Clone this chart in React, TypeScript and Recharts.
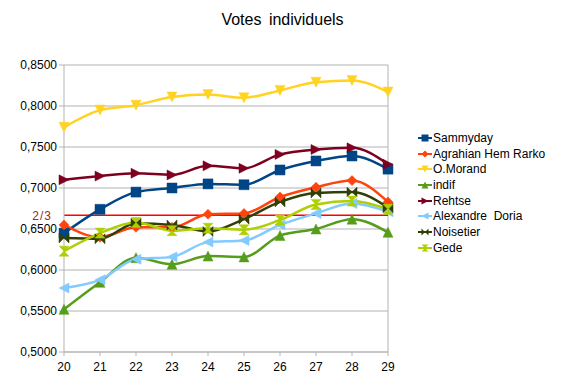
import {
  LineChart,
  Line,
  XAxis,
  YAxis,
  CartesianGrid,
  Legend,
  ReferenceLine,
} from 'recharts';

const rounds = [20, 21, 22, 23, 24, 25, 26, 27, 28, 29];

const sammyday = [0.645, 0.674, 0.695, 0.7, 0.705, 0.704, 0.722, 0.733, 0.739, 0.723];
const agrahian = [0.655, 0.64, 0.652, 0.652, 0.668, 0.669, 0.689, 0.701, 0.709, 0.683];
const morand = [0.774, 0.795, 0.801, 0.811, 0.814, 0.81, 0.819, 0.829, 0.831, 0.817];
const indif = [0.552, 0.585, 0.615, 0.607, 0.617, 0.616, 0.642, 0.65, 0.662, 0.646];
const rehtse = [0.71, 0.7145, 0.718, 0.716, 0.727, 0.724, 0.741, 0.747, 0.749, 0.729];
const doria = [0.578, 0.588, 0.613, 0.616, 0.634, 0.636, 0.655, 0.669, 0.681, 0.671];
const noisetier = [0.639, 0.638, 0.657, 0.655, 0.647, 0.662, 0.683, 0.694, 0.695, 0.676];
const gede = [0.623, 0.645, 0.658, 0.648, 0.651, 0.649, 0.661, 0.68, 0.684, 0.674];

const yTicks = [0.5, 0.55, 0.6, 0.65, 0.7, 0.75, 0.8, 0.85];
const TWO_THIRDS = 2 / 3;

const series = [
  { key: 'sammyday', name: 'Sammyday', values: sammyday, color: '#004586', shape: 'square' },
  { key: 'agrahian', name: 'Agrahian Hem Rarko', values: agrahian, color: '#ff420e', shape: 'diamond' },
  { key: 'morand', name: 'O.Morand', values: morand, color: '#ffd320', shape: 'down' },
  { key: 'indif', name: 'indif', values: indif, color: '#579d1c', shape: 'up' },
  { key: 'rehtse', name: 'Rehtse', values: rehtse, color: '#7e0021', shape: 'right' },
  { key: 'doria', name: 'Alexandre  Doria', values: doria, color: '#83caff', shape: 'left' },
  { key: 'noisetier', name: 'Noisetier', values: noisetier, color: '#314004', shape: 'bowtie' },
  { key: 'gede', name: 'Gede', values: gede, color: '#aecf00', shape: 'hourglass' },
];

const data = rounds.map((r, i) => {
  const row: Record<string, number> = { round: r };
  series.forEach((s) => (row[s.key] = s.values[i]));
  return row;
});

const FONT = '"Liberation Sans", Arial, sans-serif';

function markerPoints(shape: string, x: number, y: number, s: number) {
  switch (shape) {
    case 'diamond':
      return `${x},${y - s} ${x + s},${y} ${x},${y + s} ${x - s},${y}`;
    case 'down':
      return `${x - s},${y - s} ${x + s},${y - s} ${x},${y + s}`;
    case 'up':
      return `${x - s},${y + s} ${x + s},${y + s} ${x},${y - s}`;
    case 'right':
      return `${x - s},${y - s} ${x + s},${y} ${x - s},${y + s}`;
    case 'left':
      return `${x + s},${y - s} ${x - s},${y} ${x + s},${y + s}`;
    case 'bowtie':
      return `${x - s},${y - s} ${x + s},${y + s} ${x + s},${y - s} ${x - s},${y + s}`;
    case 'hourglass':
      return `${x - s},${y - s} ${x + s},${y - s} ${x - s},${y + s} ${x + s},${y + s}`;
    default:
      return `${x - s},${y - s} ${x + s},${y - s} ${x + s},${y + s} ${x - s},${y + s}`;
  }
}

function Marker({ cx, cy, shape, color, size = 5 }: any) {
  if (cx == null || cy == null) return null;
  return <polygon points={markerPoints(shape, cx, cy, size)} fill={color} stroke={color} strokeWidth={0.5} />;
}

function LegendBox() {
  return (
    <div style={{ fontFamily: FONT, fontSize: 12, color: '#000' }}>
      {series.map((s) => (
        <div key={s.key} style={{ display: 'flex', alignItems: 'center', height: 15.7 }}>
          <svg width={14} height={10} style={{ marginRight: 1 }}>
            <line x1={0} y1={5} x2={14} y2={5} stroke={s.color} strokeWidth={2} />
            <polygon points={markerPoints(s.shape, 7, 5, 3.5)} fill={s.color} />
          </svg>
          <span style={{ whiteSpace: 'pre' }}>{s.name}</span>
        </div>
      ))}
    </div>
  );
}

export default function App() {
  return (
    <div style={{ position: 'absolute', left: 0, top: 0, width: 565, height: 391, background: '#fff' }}>
      <div
        style={{
          position: 'absolute',
          top: 11,
          left: 0,
          width: 565,
          textAlign: 'center',
          fontFamily: FONT,
          fontSize: 16,
          wordSpacing: 3,
        }}
      >
        Votes individuels
      </div>
      <LineChart
        width={565}
        height={391}
        data={data}
        margin={{ top: 65, right: 30, left: 0, bottom: 9 }}
      >
        <CartesianGrid vertical={false} stroke="#b3b3b3" />
        <XAxis
          dataKey="round"
          stroke="#b3b3b3"
          tick={{ fill: '#000', fontSize: 12, fontFamily: FONT, dy: 4 }}
          tickSize={4}
          height={30}
          interval={0}
        />
        <YAxis
          domain={[0.5, 0.85]}
          ticks={yTicks}
          stroke="#b3b3b3"
          width={64}
          tickSize={5}
          tickFormatter={(v: number) => v.toFixed(4).replace('.', ',')}
          tick={{ fill: '#000', fontSize: 12, fontFamily: FONT }}
        />
        <ReferenceLine x={29} stroke="#b3b3b3" />
        <ReferenceLine
          y={TWO_THIRDS}
          stroke="#ff0000"
          strokeWidth={1.5}
          label={{ value: '2/3', position: 'left', fill: '#a3262c', fontSize: 12, fontFamily: FONT, dx: -7, letterSpacing: 1 }}
        />
        <Legend
          layout="vertical"
          align="right"
          verticalAlign="top"
          wrapperStyle={{ left: 418, top: 130, width: 147 }}
          content={() => <LegendBox />}
        />
        {series.map((s) => (
          <Line
            key={s.key}
            dataKey={s.key}
            name={s.name}
            type="monotone"
            stroke={s.color}
            strokeWidth={2.5}
            isAnimationActive={false}
            dot={(p: any) => <Marker key={`${s.key}-${p.index}`} cx={p.cx} cy={p.cy} shape={s.shape} color={s.color} />}
            activeDot={false}
          />
        ))}
      </LineChart>
    </div>
  );
}
